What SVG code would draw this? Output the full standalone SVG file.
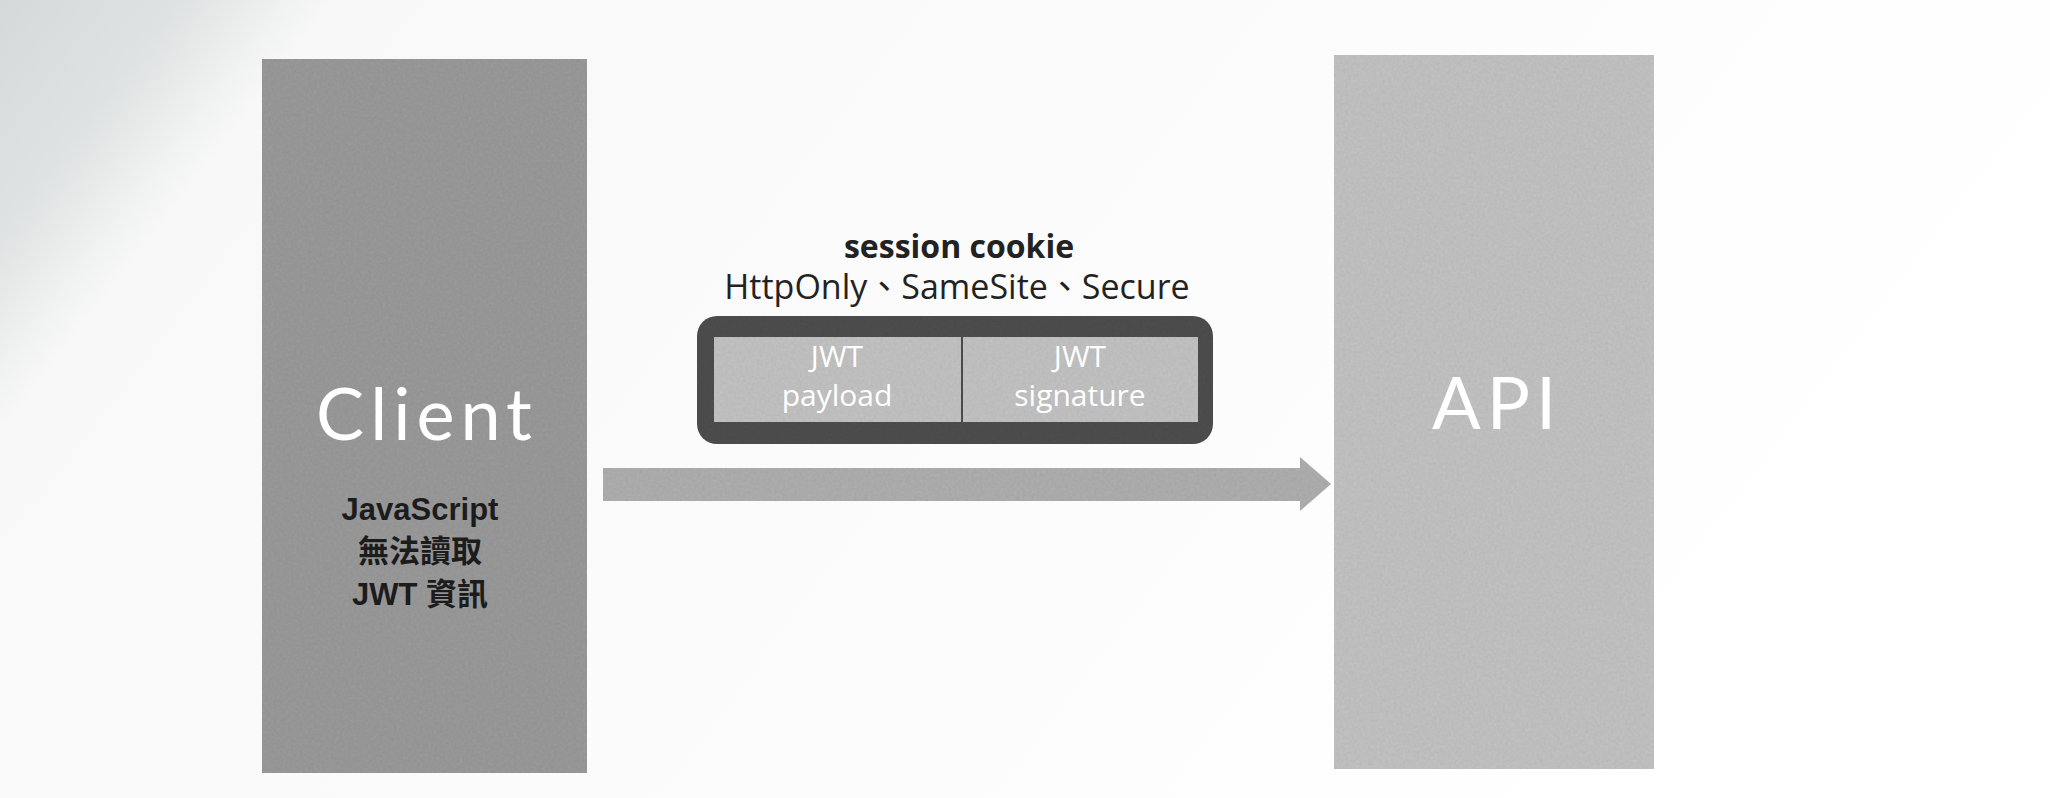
<svg xmlns="http://www.w3.org/2000/svg" width="2050" height="798" viewBox="0 0 2050 798">
  <defs>
    <linearGradient id="bgShade" x1="0" y1="0" x2="1" y2="0.3">
      <stop offset="0" stop-color="#d6d9d9"/>
      <stop offset="0.08" stop-color="#dfe2e2"/>
      <stop offset="0.15" stop-color="#f8f8f8"/>
      <stop offset="1" stop-color="#ffffff"/>
    </linearGradient>
    <filter id="grain" x="0" y="0" width="100%" height="100%">
      <feTurbulence type="fractalNoise" baseFrequency="0.35" numOctaves="2" seed="3" result="n"/>
      <feColorMatrix in="n" type="matrix" values="0 0 0 0 0.5  0 0 0 0 0.5  0 0 0 0 0.5  0 0 0 0.3 0" result="g"/>
      <feComposite in="g" in2="SourceGraphic" operator="in" result="gm"/>
      <feBlend in="SourceGraphic" in2="gm" mode="multiply"/>
    </filter>
  </defs>
  <style>
    .node-box { filter: url(#grain); }
    .big { font-family: Lato, "Open Sans", "Liberation Sans", sans-serif; font-size: 72px; fill: #ffffff; text-anchor: middle; letter-spacing: 6px; }
    .note { font-family: "Liberation Sans", Arial, "Noto Sans CJK TC", sans-serif; font-size: 31px; font-weight: bold; fill: #1c1c1c; text-anchor: middle; }
    .title { font-family: "Open Sans", "Liberation Sans", "Noto Sans CJK TC", sans-serif; fill: #222222; text-anchor: middle; }
    .cell { font-family: "Open Sans", "Liberation Sans", sans-serif; font-size: 30px; fill: #ffffff; text-anchor: middle; }
  </style>

  <rect x="0" y="0" width="2050" height="798" fill="url(#bgShade)"/>

  <g id="client">
    <rect class="node-box" x="262" y="59" width="325" height="714" fill="#9b9b9b"/>
    <text class="big" x="427" y="440">Client</text>
    <text class="note" x="420" y="520">JavaScript</text>
    <text class="note" x="420" y="562">無法讀取</text>
    <text class="note" x="420" y="605">JWT 資訊</text>
  </g>

  <g id="api">
    <rect class="node-box" x="1334" y="55" width="320" height="714" fill="#c4c4c4"/>
    <text class="big" x="1497" y="429">API</text>
  </g>

  <g id="session-cookie">
    <text class="title" x="959" y="258" font-size="32" font-weight="bold">session cookie</text>
    <text class="title" x="957" y="299" font-size="34">HttpOnly、SameSite、Secure</text>
    <rect class="node-box" x="697" y="316" width="516" height="128" rx="20" ry="20" fill="#4e4e4e"/>
    <rect class="node-box" x="714" y="337" width="484" height="85" fill="#c4c4c4"/>
    <line x1="962" y1="337" x2="962" y2="422" stroke="#4a4a4a" stroke-width="2"/>
    <text class="cell" x="837" y="367">JWT</text>
    <text class="cell" x="837" y="406">payload</text>
    <text class="cell" x="1080" y="367">JWT</text>
    <text class="cell" x="1080" y="406">signature</text>
  </g>

  <g id="connectors">
    <polygon class="node-box" points="603,468 1300,468 1300,457 1331,484 1300,511 1300,501 603,501" fill="#b0b0b0"/>
  </g>
</svg>
